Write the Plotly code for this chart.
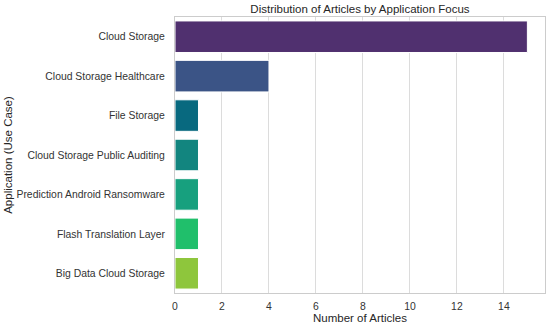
import plotly.graph_objects as go

categories = ["Cloud Storage", "Cloud Storage Healthcare", "File Storage",
              "Cloud Storage Public Auditing", "Prediction Android Ransomware",
              "Flash Translation Layer", "Big Data Cloud Storage"]
counts = [15, 4, 1, 1, 1, 1, 1]
colors = ["#50306f", "#3b5486", "#08697f", "#12857f", "#17a07e", "#20bf6b", "#8ec63c"]
x_ticks = [0, 2, 4, 6, 8, 10, 12, 14]

fig = go.Figure(go.Bar(
    x=counts, y=categories, orientation="h",
    marker=dict(color=colors, line=dict(color="white", width=1)),
    width=0.8,
))

font = "Liberation Sans, Arial, sans-serif"
fig.update_layout(
    width=550, height=328,
    margin=dict(l=175, r=5, t=17, b=35, autoexpand=False),
    paper_bgcolor="white", plot_bgcolor="white",
    font=dict(family=font, size=10.4, color="#333333"),
    title=dict(text="Distribution of Articles by Application Focus",
               x=0.6545, xanchor="center", y=0.972, yanchor="middle",
               font=dict(size=11.5, color="#262626")),
    showlegend=False,
)
fig.update_xaxes(
    range=[0, 15.75], tickvals=x_ticks, automargin=False,
    showgrid=True, gridcolor="#dcdcdc", gridwidth=1,
    zeroline=False, showline=True, linecolor="#cccccc", linewidth=1, mirror=True,
    ticklabelstandoff=4,
    title=dict(text="Number of Articles", font=dict(size=11.5, color="#262626"), standoff=0),
)
fig.update_yaxes(
    autorange="reversed", showgrid=False, automargin=False,
    showline=True, linecolor="#cccccc", linewidth=1, mirror=True,
    ticklabelstandoff=7,
    title=dict(text="Application (Use Case)", font=dict(size=11.5, color="#262626"), standoff=1),
)
fig.write_html("out.html", config={"displayModeBar": False},
               post_script="document.body.style.margin='0';document.body.style.overflow='hidden';")
